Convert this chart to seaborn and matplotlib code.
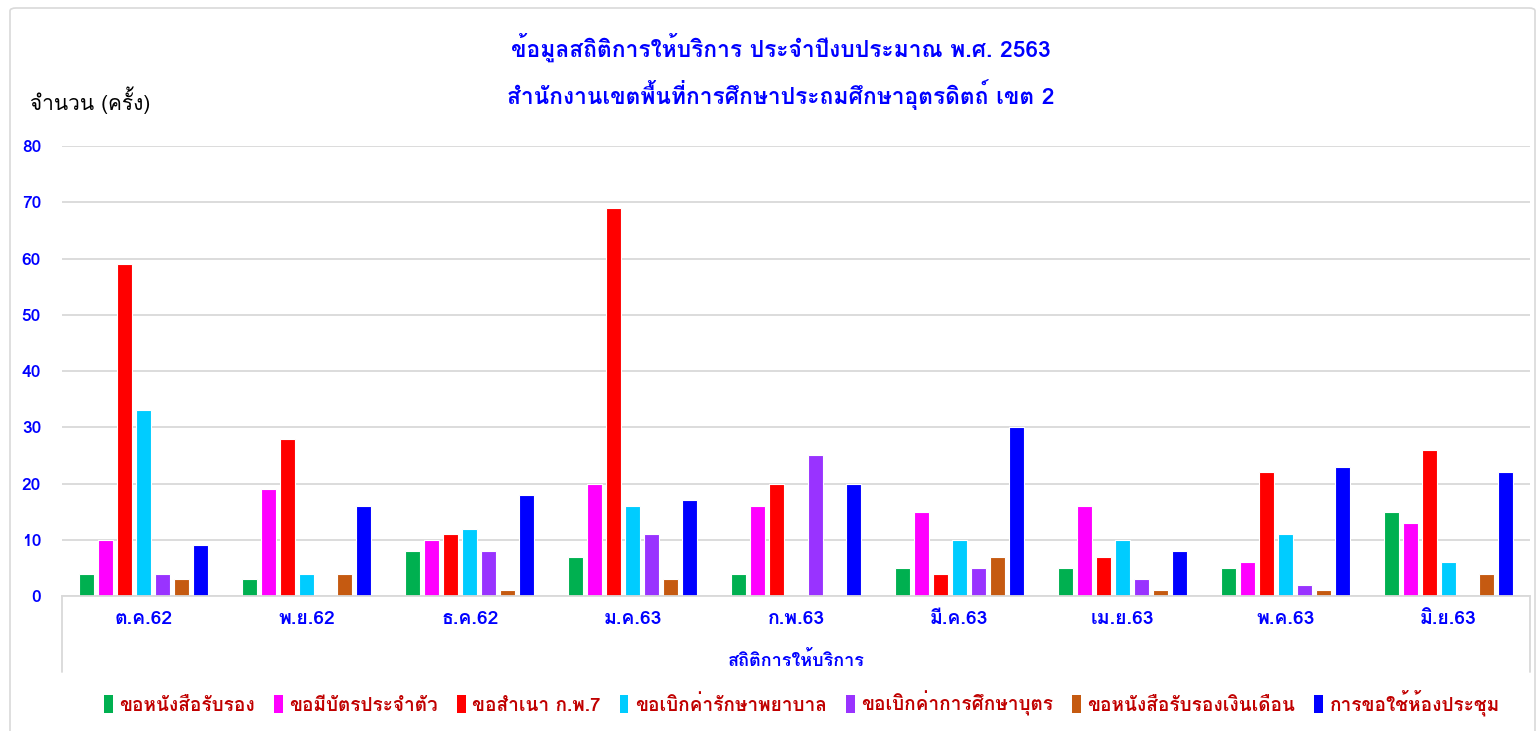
import matplotlib
matplotlib.use("Agg")
import matplotlib.pyplot as plt
from matplotlib.lines import Line2D
from matplotlib.patches import Rectangle, FancyBboxPatch
import seaborn as sns
import pandas as pd

months = ["ต.ค.62", "พ.ย.62", "ธ.ค.62", "ม.ค.63", "ก.พ.63", "มี.ค.63", "เม.ย.63", "พ.ค.63", "มิ.ย.63"]
series = ["ขอหนังสือรับรอง", "ขอมีบัตรประจำตัว", "ขอสำเนา ก.พ.7", "ขอเบิกค่ารักษาพยาบาล",
          "ขอเบิกค่าการศึกษาบุตร", "ขอหนังสือรับรองเงินเดือน", "การขอใช้ห้องประชุม"]
colors = ["#00B050", "#FF00FF", "#FF0000", "#00CCFF", "#9933FF", "#C55A11", "#0000FF"]

s1 = [4, 3, 8, 7, 4, 5, 5, 5, 15]
s2 = [10, 19, 10, 20, 16, 15, 16, 6, 13]
s3 = [59, 28, 11, 69, 20, 4, 7, 22, 26]
s4 = [33, 4, 12, 16, 0, 10, 10, 11, 6]
s5 = [4, 0, 8, 11, 25, 5, 3, 2, 0]
s6 = [3, 4, 1, 3, 0, 7, 1, 1, 4]
s7 = [9, 16, 18, 17, 20, 30, 8, 23, 22]
yticks = [0, 10, 20, 30, 40, 50, 60, 70, 80]

title1 = "ข้อมูลสถิติการให้บริการ ประจำปีงบประมาณ พ.ศ. 2563"
title2 = "สำนักงานเขตพื้นที่การศึกษาประถมศึกษาอุตรดิตถ์ เขต 2"
ylabel = "จำนวน (ครั้ง)"
xlabel = "สถิติการให้บริการ"

rows = []
for name, vals in zip(series, [s1, s2, s3, s4, s5, s6, s7]):
    for m, v in zip(months, vals):
        rows.append({"month": m, "series": name, "value": v})
df = pd.DataFrame(rows)

sns.set_theme(style="white")
FONT = ["Loma", "DejaVu Sans"]
plt.rcParams["font.family"] = FONT

W, H = 1538, 731
fig = plt.figure(figsize=(W / 100, H / 100), dpi=100)
ax = fig.add_axes([62 / W, 1 - 596 / H, (1530 - 62) / W, (596 - 146) / H])

sns.barplot(data=df, x="month", y="value", hue="series", order=months, hue_order=series,
            palette=colors, width=0.816, gap=0.21, edgecolor="white", linewidth=0.8,
            saturation=1, errorbar=None, legend=False, ax=ax)

ax.set_ylim(0, 80)
ax.set_xlim(-0.5, len(months) - 0.5)
ax.set_yticks(yticks)
ax.yaxis.grid(True, color="#D9D9D9", linewidth=1.3)
ax.set_axisbelow(True)
for sp in ["left", "right", "top"]:
    ax.spines[sp].set_visible(False)
ax.spines["bottom"].set_color("#D9D9D9")
ax.spines["bottom"].set_linewidth(1.3)
ax.tick_params(axis="y", length=0, pad=15, labelsize=12.5, labelcolor="#0000FF")
ax.tick_params(axis="x", length=0, pad=10, labelsize=14, labelcolor="#0000FF")
for lab in ax.get_yticklabels() + ax.get_xticklabels():
    lab.set_fontweight("bold")
ax.set_xlabel("")
ax.set_ylabel("")

# multi-level category axis frame lines
for x in (62, 1530):
    fig.add_artist(Line2D([x / W, x / W], [1 - 596 / H, 1 - 672 / H], color="#D9D9D9", lw=1.3))
fig.text(796 / W, 1 - 661 / H, xlabel, ha="center", va="center", color="#0000FF",
         fontsize=13, fontweight="bold")

# titles
fig.text(781 / W, 1 - 47 / H, title1, ha="center", va="center", color="#0000FF",
         fontsize=16.4, fontweight="bold")
fig.text(781 / W, 1 - 95 / H, title2, ha="center", va="center", color="#0000FF",
         fontsize=16.4, fontweight="bold")
fig.text(30 / W, 1 - 100 / H, ylabel, ha="left", va="center", color="black", fontsize=15)

# legend
handles = [Rectangle((0, 0), 1, 1, facecolor=c, edgecolor="none") for c in colors]
leg = fig.legend(handles, series, loc="center", bbox_to_anchor=(802 / W, 1 - 703 / H),
                 ncol=7, frameon=False, fontsize=13.7, handlelength=0.45, handleheight=1.1,
                 handletextpad=0.35, columnspacing=1.0)
for t in leg.get_texts():
    t.set_color("#C00000")
    t.set_fontweight("bold")

# chart border (bottom edge lies below the image, as in the reference)
fig.add_artist(FancyBboxPatch((10 / W, -20 / H), (W - 13) / W, (H + 12) / H,
                              boxstyle="round,pad=0,rounding_size=0.004",
                              transform=fig.transFigure, facecolor="none",
                              edgecolor="#D9D9D9", lw=1.2))

fig.savefig("out.png", dpi=100)
